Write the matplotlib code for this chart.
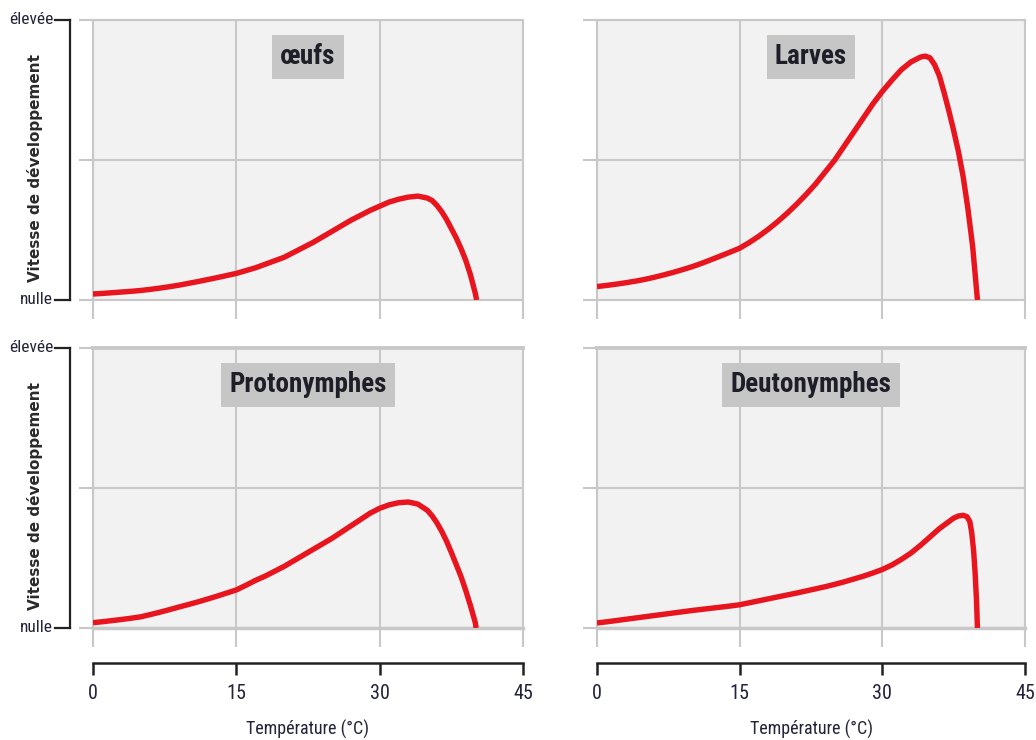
import matplotlib
matplotlib.use("Agg")
import matplotlib.pyplot as plt
from matplotlib.lines import Line2D
from matplotlib.transforms import blended_transform_factory
from matplotlib import font_manager

# --- data ---------------------------------------------------------------
stages = ["œufs", "Larves", "Protonymphes", "Deutonymphes"]

temp_oeufs = [0, 1, 2, 3, 4, 5, 6, 7, 8, 9, 10, 11, 12, 13, 14, 15, 16, 17,
              18, 19, 20, 21, 22, 23, 24, 25, 26, 27, 28, 29, 30, 31, 32, 33,
              34, 35, 35.5, 36, 36.5, 37, 37.5, 38, 38.5, 39, 39.5, 40, 40.15]
rate_oeufs = [0.043, 0.047, 0.052, 0.057, 0.062, 0.068, 0.076, 0.085, 0.095,
              0.106, 0.119, 0.132, 0.146, 0.160, 0.175, 0.190, 0.21, 0.23,
              0.255, 0.28, 0.305, 0.34, 0.375, 0.41, 0.45, 0.49, 0.53, 0.57,
              0.605, 0.64, 0.67, 0.70, 0.72, 0.735, 0.742, 0.728, 0.71, 0.675,
              0.63, 0.575, 0.51, 0.445, 0.37, 0.285, 0.18, 0.05, 0.0]

temp_larves = [0, 1, 2, 3, 4, 5, 6, 7, 8, 9, 10, 11, 12, 13, 14, 15, 16, 17,
               18, 19, 20, 21, 22, 23, 24, 25, 26, 27, 28, 29, 30, 31, 32, 33,
               34, 34.5, 35, 35.5, 36, 36.5, 37, 37.5, 38, 38.5, 39, 39.5, 40]
rate_larves = [0.096, 0.104, 0.113, 0.123, 0.134, 0.147, 0.162, 0.179, 0.197,
               0.217, 0.238, 0.262, 0.288, 0.315, 0.342, 0.37, 0.41, 0.455,
               0.505, 0.56, 0.62, 0.685, 0.755, 0.83, 0.915, 1.0, 1.10, 1.20,
               1.30, 1.40, 1.49, 1.57, 1.645, 1.70, 1.735, 1.742, 1.73, 1.68,
               1.60, 1.48, 1.35, 1.21, 1.06, 0.88, 0.65, 0.38, 0.0]

temp_proto = [0, 1, 2, 3, 4, 5, 6, 7, 8, 9, 10, 11, 12, 13, 14, 15, 16, 17,
              18, 19, 20, 21, 22, 23, 24, 25, 26, 27, 28, 29, 30, 31, 32, 33,
              34, 35, 35.5, 36, 36.5, 37, 37.5, 38, 38.5, 39, 39.5, 40, 40.1]
rate_proto = [0.038, 0.045, 0.053, 0.061, 0.07, 0.08, 0.096, 0.113, 0.131,
              0.15, 0.168, 0.187, 0.207, 0.228, 0.25, 0.272, 0.305, 0.34,
              0.37, 0.405, 0.44, 0.48, 0.52, 0.56, 0.60, 0.64, 0.685, 0.73,
              0.775, 0.82, 0.855, 0.88, 0.895, 0.90, 0.885, 0.84, 0.80, 0.75,
              0.69, 0.62, 0.54, 0.455, 0.37, 0.27, 0.16, 0.04, 0.0]

temp_deuto = [0, 1, 2, 3, 4, 5, 6, 7, 8, 9, 10, 11, 12, 13, 14, 15, 16, 17,
              18, 19, 20, 21, 22, 23, 24, 25, 26, 27, 28, 29, 30, 31, 32, 33,
              34, 35, 36, 37, 37.5, 38, 38.5, 38.9, 39.2, 39.4, 39.6, 39.75,
              39.9, 40.0]
rate_deuto = [0.036, 0.044, 0.053, 0.062, 0.071, 0.08, 0.089, 0.098, 0.107,
              0.116, 0.125, 0.133, 0.141, 0.149, 0.157, 0.166, 0.18, 0.194,
              0.208, 0.222, 0.236, 0.25, 0.265, 0.28, 0.295, 0.312, 0.33,
              0.35, 0.37, 0.393, 0.418, 0.45, 0.49, 0.535, 0.59, 0.65, 0.71,
              0.76, 0.785, 0.80, 0.805, 0.795, 0.76, 0.68, 0.55, 0.40, 0.2,
              0.0]

x_ticks = [0, 15, 30, 45]
y_ticks = [0, 1, 2]
y_ticklabels = ["nulle", "élevée"]
x_label = "Température (°C)"
y_label = "Vitesse de développement"

# --- style ---------------------------------------------------------------
names = {f.name for f in font_manager.fontManager.ttflist}
narrow = None
for cand in ["Liberation Sans Narrow", "DejaVu Sans Condensed",
             "Roboto Condensed", "Open Sans Condensed"]:
    if cand in names:
        narrow = cand
        break
if narrow is None:
    narrow = "DejaVu Sans"
plt.rcParams["font.family"] = [narrow, "DejaVu Sans"]
plt.rcParams["font.stretch"] = "condensed"

GRID = "#c8c8c8"
FACE = "#f2f2f2"
RED = "#e8141e"
INK = "#23233a"

fig = plt.figure(figsize=(10.36, 7.40), dpi=100)

lefts = [93 / 1036, 597 / 1036]
widths = [430 / 1036, 428 / 1036]
bottoms = [(740 - 300) / 740, (740 - 628) / 740]
height = 280 / 740

series = [(temp_oeufs, rate_oeufs), (temp_larves, rate_larves),
          (temp_proto, rate_proto), (temp_deuto, rate_deuto)]

for i, (name, (tx, ry)) in enumerate(zip(stages, series)):
    row, col = divmod(i, 2)
    ax = fig.add_axes([lefts[col], bottoms[row], widths[col], height])
    ax.set_facecolor(FACE)
    ax.set_xlim(0, 45)
    ax.set_ylim(0, 2)
    ax.set_xticks(x_ticks)
    ax.set_yticks(y_ticks)
    ax.set_xticklabels([])
    ax.set_yticklabels([])
    ax.grid(True, color=GRID, lw=1.5)
    ax.set_axisbelow(True)
    for sp in ax.spines.values():
        sp.set_color(GRID)
        sp.set_linewidth(1.5)
    if row == 1:
        ax.spines["top"].set_linewidth(2.8)
        ax.spines["bottom"].set_linewidth(2.5)
    ax.tick_params(axis="y", length=10, width=1.5, color=GRID)
    ax.tick_params(axis="x", length=14, width=1.5, color=GRID)

    ax.plot(tx, ry, color=RED, lw=3.9, solid_capstyle="butt",
            solid_joinstyle="round", zorder=3)

    ax.text(0.5, 0.868, name, transform=ax.transAxes, ha="center",
            va="center", fontsize=19.5, fontweight="bold", color="#1e1e28",
            bbox=dict(boxstyle="square,pad=0.3", fc="#c6c6c6", ec="none"))

    if col == 0:
        # bracket for the qualitative rate scale
        tr = blended_transform_factory(fig.transFigure, ax.transData)
        xb = 70 / 1036
        xt = 55 / 1036
        fig.add_artist(Line2D([xb, xb], [0, 2], transform=tr,
                              color="#222222", lw=1.6))
        for yv, lab in zip([0, 2], y_ticklabels):
            fig.add_artist(Line2D([xt, xb], [yv, yv], transform=tr,
                                  color="#222222", lw=1.6))
            fig.text(53 / 1036, yv, lab, transform=tr, ha="right",
                     va="center", fontsize=12.5, color=INK)
        ax.text(-0.135, 0.47, y_label, transform=ax.transAxes, rotation=90,
                ha="center", va="center", fontsize=11, fontweight="bold",
                color="#2a2a2a", family="DejaVu Sans", stretch="normal")

    if row == 1:
        sec = ax.secondary_xaxis(-0.125)
        sec.set_xticks(x_ticks)
        sec.set_xticklabels([str(v) for v in x_ticks])
        sec.spines["bottom"].set_color("#222222")
        sec.spines["bottom"].set_linewidth(1.8)
        sec.tick_params(axis="x", length=8.5, width=1.8, color="#222222",
                        labelsize=14.5, labelcolor=INK, pad=6.5)
        sec.set_xlabel(x_label, fontsize=13, color=INK, labelpad=12)

fig.savefig("out.png", dpi=100)
